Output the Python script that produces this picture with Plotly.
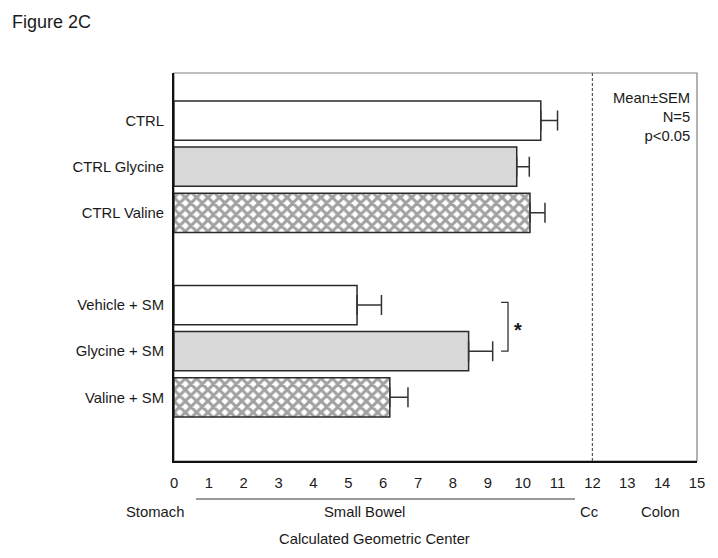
import plotly.graph_objects as go

# ---- data ----
groups = ["CTRL", "CTRL Glycine", "CTRL Valine", " ", "Vehicle + SM", "Glycine + SM", "Valine + SM"]
bar_labels = ["CTRL", "CTRL Glycine", "CTRL Valine", "Vehicle + SM", "Glycine + SM", "Valine + SM"]
means = [10.52, 9.83, 10.21, 5.25, 8.45, 6.19]
sems = [0.48, 0.36, 0.43, 0.70, 0.69, 0.52]
fills = ["white", "#d9d9d9", "white", "white", "#d9d9d9", "white"]
patterns = ["", "", "x", "", "", "x"]
x_ticks = list(range(0, 16))
region_labels = ["Stomach", "Small Bowel", "Cc", "Colon"]
region_centers = [-0.54, 5.45, 11.93, 13.94]
small_bowel_span = [0.63, 11.5]
cc_boundary = 12
stats_text = ["Mean±SEM", "N=5", "p<0.05"]
x_title = "Calculated Geometric Center"
fig_title = "Figure 2C"

FONT = "Arial, Liberation Sans, sans-serif"
TXT = "#1a1a1a"
FS = 14.8
X_RANGE = [0, 15]


def to_paper(v):
    return (v - X_RANGE[0]) / (X_RANGE[1] - X_RANGE[0])


fig = go.Figure()
fig.add_trace(go.Bar(
    y=bar_labels, x=means, orientation="h", width=0.85,
    marker=dict(color=fills, line=dict(color="#2a2a2a", width=1.5),
                pattern=dict(shape=patterns, fgcolor="#000000", bgcolor="white",
                             size=8, solidity=0.62, fillmode="overlay")),
    error_x=dict(type="data", array=sems, arrayminus=[0] * len(sems), symmetric=False,
                 color="#333333", thickness=1.5, width=10),
    showlegend=False, hoverinfo="skip",
))

# significance bracket between Vehicle + SM and Glycine + SM
i1, i2 = bar_labels.index("Vehicle + SM"), bar_labels.index("Glycine + SM")
bx = max(means[i1] + sems[i1], means[i2] + sems[i2]) + 0.24
yc1, yc2 = groups.index("Vehicle + SM"), groups.index("Glycine + SM")
fig.add_shape(type="path", xref="x", yref="y",
              path=f"M {bx},{yc1 - 0.06} L {bx + 0.2},{yc1 - 0.06} L {bx + 0.2},{yc2} L {bx},{yc2}",
              line=dict(color="#333333", width=1.3))
fig.add_annotation(x=bx + 0.5, y=(yc1 + yc2) / 2 + 0.03, xref="x", yref="y", text="<b>*</b>",
                   showarrow=False, font=dict(family=FONT, size=20, color=TXT))

# plot frame (gray top/right)
fig.add_shape(type="rect", xref="paper", yref="paper", x0=0, x1=1, y0=0, y1=1,
              line=dict(color="#808080", width=1.2), layer="below")
# dashed boundary line
fig.add_shape(type="line", xref="x", yref="paper", x0=cc_boundary, x1=cc_boundary, y0=0, y1=1,
              line=dict(color="#555555", width=1.2, dash="3px,2px"))
# small bowel underline
fig.add_shape(type="line", xref="x", yref="paper", x0=small_bowel_span[0], x1=small_bowel_span[1],
              y0=-0.098, y1=-0.098, line=dict(color="#777777", width=1.5))

for lab, cx in zip(region_labels, region_centers):
    fig.add_annotation(x=to_paper(cx), y=-0.131, xref="paper", yref="paper", text=lab, showarrow=False,
                       xanchor="center", yanchor="middle", font=dict(family=FONT, size=FS, color=TXT))
fig.add_annotation(x=to_paper(5.74), y=-0.201, xref="paper", yref="paper", text=x_title, showarrow=False,
                   xanchor="center", yanchor="middle", font=dict(family=FONT, size=FS, color=TXT))
fig.add_annotation(x=0.99, y=0.962, xref="paper", yref="paper", text="<br>".join(stats_text),
                   showarrow=False, xanchor="right", yanchor="top", align="right",
                   font=dict(family=FONT, size=FS, color=TXT))

fig.update_layout(
    width=718, height=558,
    margin=dict(l=174, r=21, t=73, b=97),
    paper_bgcolor="white", plot_bgcolor="white",
    font=dict(family=FONT, size=FS, color=TXT),
    title=dict(text=fig_title, x=12 / 718, xanchor="left", y=1 - 22 / 558, yanchor="middle",
               font=dict(family=FONT, size=18, color=TXT)),
    xaxis=dict(range=X_RANGE, tickvals=x_ticks, ticktext=[str(t) for t in x_ticks],
               showgrid=False, zeroline=False, showline=True, linecolor="#111111", linewidth=1.5,
               ticks="", ticklabelstandoff=8, fixedrange=True),
    yaxis=dict(type="category", categoryorder="array", categoryarray=groups,
               range=[7.38, -1.03], showgrid=False, zeroline=False, showline=True,
               linecolor="#111111", linewidth=2, ticks="", ticklabelstandoff=5,
               tickvals=bar_labels, ticktext=bar_labels, fixedrange=True),
    bargap=0.15,
)

fig.write_html("out.html", config={"displayModeBar": False, "staticPlot": True},
               post_script="document.body.style.margin='0';document.body.style.padding='0';")
